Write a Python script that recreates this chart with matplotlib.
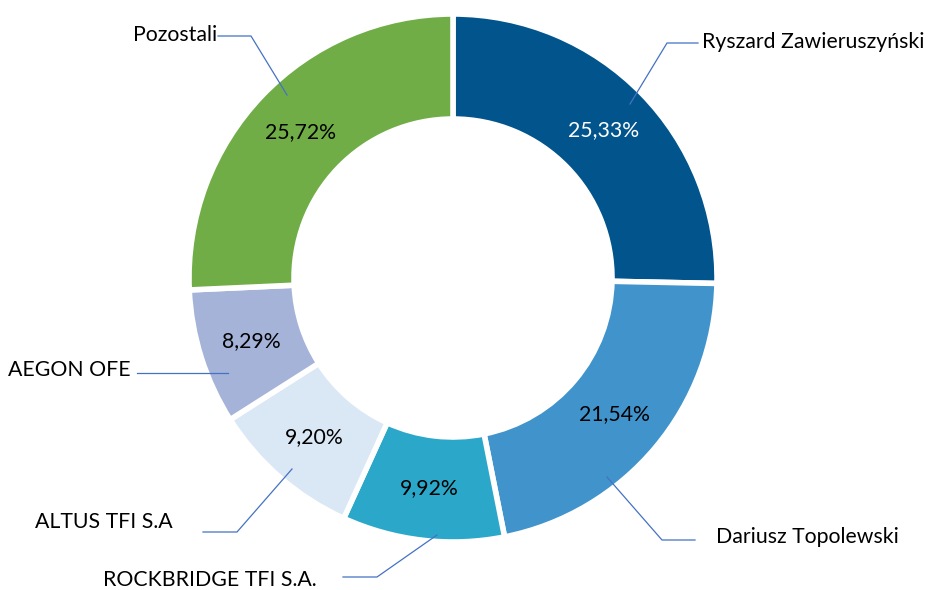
import matplotlib.pyplot as plt

plt.rcParams['font.family'] = ['Lato', 'DejaVu Sans']

# shareholders and their share (%)
names = ['Ryszard Zawieruszyński', 'Dariusz Topolewski', 'ROCKBRIDGE TFI S.A.',
         'ALTUS TFI S.A', 'AEGON OFE', 'Pozostali']
shares = [25.33, 21.54, 9.92, 9.20, 8.29, 25.72]
colors = ['#02548C', '#4193CB', '#2BA8C9', '#DAE7F5', '#A5B3D9', '#70AD47']
pct_colors = ['white', 'black', 'black', 'black', 'black', 'black']

# leader lines (pixel coords, y from top): start in slice -> elbow -> end
leaders = [
    [(630, 104), (667, 43), (698, 43)],
    [(607, 477), (662, 540), (695, 540)],
    [(437, 535), (377, 577), (343, 577)],
    [(292, 469), (237, 532), (203, 532)],
    [(228, 373), (137, 373)],
    [(287, 95), (251, 36), (218, 36)],
]
# name label anchors
label_pos = [(702, 42, 'left'), (716, 537, 'left'), (210, 580, 'center'),
             (104, 522, 'center'), (69, 370, 'center'), (217, 35, 'right')]

fig = plt.figure(figsize=(9.29, 5.90), dpi=100)
ax = fig.add_axes([0, 0, 1, 1])

# y axis is flipped (pixel style), so start at -90 and go "counterclockwise"
wedges, texts, autotexts = ax.pie(
    shares, colors=colors, center=(453, 278), radius=264,
    startangle=-90, counterclock=True,
    autopct=lambda p: ('%.2f%%' % p).replace('.', ','), pctdistance=0.80,
    wedgeprops=dict(width=105, edgecolor='white', linewidth=4),
    textprops=dict(fontsize=15.3))
for t, c in zip(autotexts, pct_colors):
    t.set_color(c)

for pts in leaders:
    xs = [p[0] for p in pts]
    ys = [p[1] for p in pts]
    ax.plot(xs, ys, color='#4472C4', lw=0.9)

for name, (x, y, ha) in zip(names, label_pos):
    ax.text(x, y, name, ha=ha, va='center', fontsize=15.3, color='black')

ax.set_xlim(0, 929)
ax.set_ylim(590, 0)
ax.set_aspect('equal')
ax.axis('off')

plt.savefig('out.png', dpi=100)
